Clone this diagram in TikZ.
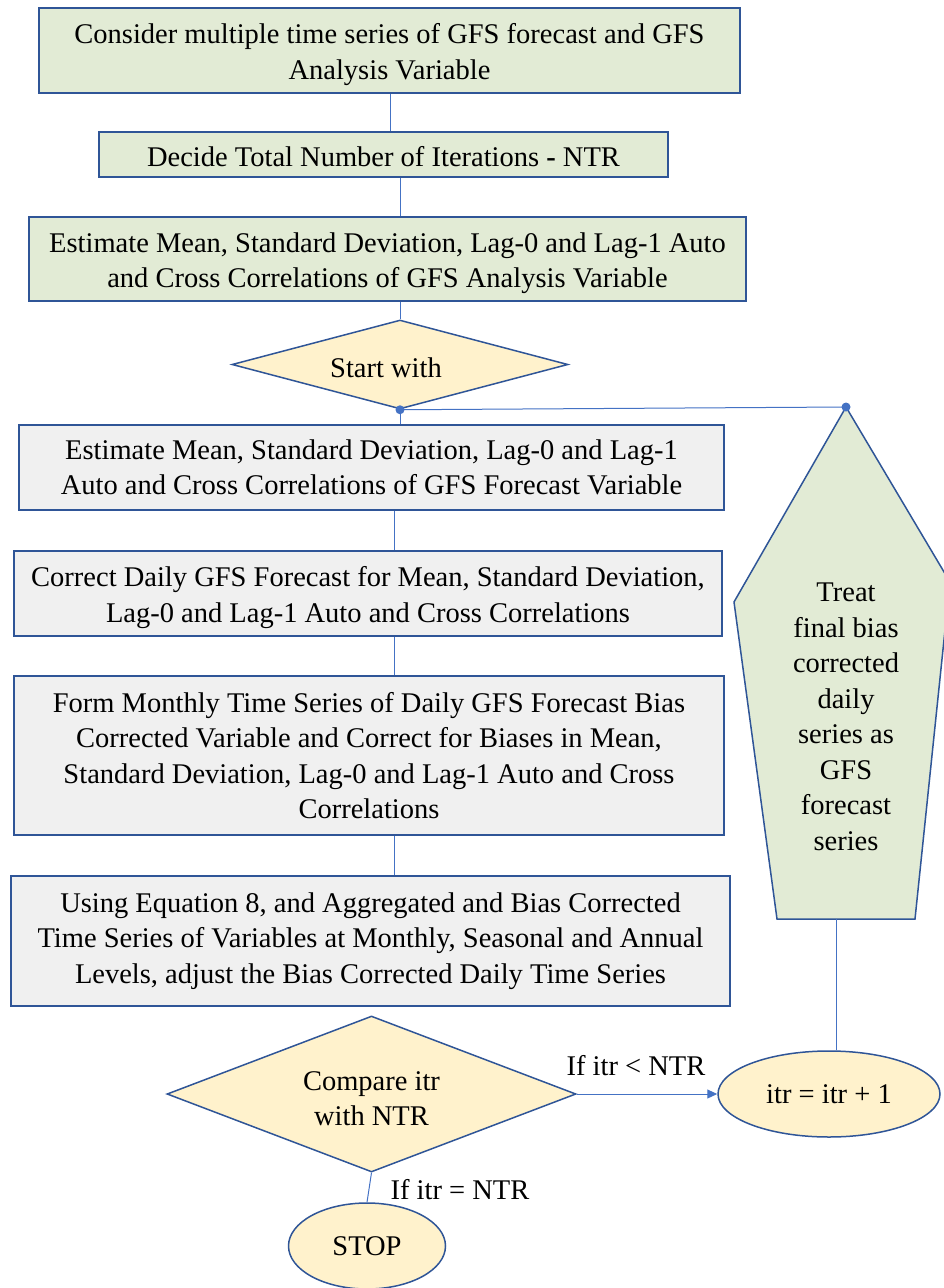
\documentclass[tikz,border=0pt]{standalone}
\usepackage{fontspec}
\setmainfont{Liberation Serif}
\usetikzlibrary{shapes.geometric,calc,arrows.meta}
\definecolor{boxgreen}{HTML}{E2EBD5}
\definecolor{boxgray}{HTML}{F0F0F0}
\definecolor{boxyellow}{HTML}{FFF2CC}
\definecolor{edgeblue}{HTML}{2F5597}
\definecolor{lineblue}{HTML}{4472C4}
\newcommand{\strt}{\rule{0pt}{28pt}}
\tikzset{
  txt/.style={font=\fontsize{28.5}{35.5}\selectfont, align=center, inner sep=0pt},
  gbox/.style={txt, rectangle, draw=edgeblue, line width=1.5pt, fill=boxgreen},
  graybox/.style={txt, rectangle, draw=edgeblue, line width=1.5pt, fill=boxgray},
  ydia/.style={txt, diamond, draw=edgeblue, line width=1.5pt, fill=boxyellow},
  yell/.style={txt, ellipse, draw=edgeblue, line width=1.5pt, fill=boxyellow},
  conn/.style={draw=lineblue, line width=1pt},
  dot/.style={circle, fill=lineblue, inner sep=0pt, minimum size=9pt},
  lbl/.style={txt}
}
\begin{document}
\begin{tikzpicture}[x=1pt,y=-1pt]
\useasboundingbox (0,0) rectangle (944,1288);

% pentagon
\coordinate (ptop) at (846,407);
\coordinate (pbot) at (836,919);
\filldraw[fill=boxgreen, draw=edgeblue, line width=1.5pt]
  (846,407) -- (734,602) -- (777,919) -- (915,919) -- (950,582) -- cycle;
\node[lbl] (ptext) at (846,717) {Treat\\final bias\\corrected\\daily\\series as\\GFS\\forecast\\series};

\node[gbox, minimum width=701pt, minimum height=85pt] (b1) at (389.5,50.5)
  {\strt Consider multiple time series of GFS forecast and GFS\\Analysis Variable};
\node[gbox, minimum width=569pt, minimum height=45pt] (b2) at (383.5,154.5)
  {\rule{0pt}{24pt}Decide Total Number of Iterations \textbf{-} NTR};
\node[gbox, minimum width=717pt, minimum height=84pt] (b3) at (387.5,259)
  {\strt Estimate Mean, Standard Deviation, Lag-0 and Lag-1 Auto\\and Cross Correlations of GFS Analysis Variable};
\node[ydia, minimum width=336pt, minimum height=89pt, aspect=3.78] (d1) at (400,364.5)
  {\rule{0pt}{27pt}Start with\hspace*{28pt}};
\node[graybox, minimum width=705pt, minimum height=85pt] (b4) at (371.5,467.5)
  {Estimate Mean, Standard Deviation, Lag-0 and Lag-1\\Auto and Cross Correlations of GFS Forecast Variable};
\node[graybox, minimum width=708pt, minimum height=85pt] (b5) at (368,593.5)
  {\strt Correct Daily GFS Forecast for Mean, Standard Deviation,\\Lag-0 and Lag-1 Auto and Cross Correlations};
\node[graybox, minimum width=710pt, minimum height=159pt] (b6) at (369,755.5)
  {Form Monthly Time Series of Daily GFS Forecast Bias\\Corrected Variable and Correct for Biases in Mean,\\Standard Deviation, Lag-0 and Lag-1 Auto and Cross\\Correlations};
\node[graybox, minimum width=719pt, minimum height=130pt] (b7) at (370.5,941)
  {Using Equation 8, and Aggregated and Bias Corrected\\Time Series of Variables at Monthly, Seasonal and Annual\\Levels, adjust the Bias Corrected Daily Time Series};
\node[ydia, minimum width=409pt, minimum height=156pt, aspect=2.62] (d2) at (371.5,1094)
  {\strt Compare itr\\with NTR};
\node[yell, minimum width=222pt, minimum height=86pt] (e1) at (829,1094)
  {itr = itr + 1};
\node[yell, minimum width=157pt, minimum height=86pt] (stop) at (367,1246)
  {STOP};

\node[lbl] (l1) at (636,1066) {If itr < NTR};
\node[lbl] (l2) at (460,1190) {If itr = NTR};

\coordinate (cx) at (394,0);

% connectors
\draw[conn] ($(b1.south)+(0.5,0)$) -- ($(b2.north)+(6.5,0)$);
\draw[conn] ($(b2.south)+(16.5,0)$) -- ($(b3.north)+(12.5,0)$);
\draw[conn] ($(b3.south)+(12.5,0)$) -- (d1.north);
\draw[conn] (d1.south) -- (d1.south |- b4.north);
\draw[conn] (d1.south) -- (ptop);
\draw[conn] (b4.south -| cx) -- (b5.north -| cx);
\draw[conn] (b5.south -| cx) -- (b6.north -| cx);
\draw[conn] (b6.south -| cx) -- (b7.north -| cx);
\draw[conn, -{Triangle[length=10pt,width=9pt]}] (d2.east) -- (e1.west);
\draw[conn] ($(e1.north)+(7,0)$) -- (pbot);
\draw[conn] (d2.south) -- (stop.north);
\node[dot] (dt1) at (d1.south) {};
\node[dot] (dt2) at (ptop) {};
\end{tikzpicture}
\end{document}
